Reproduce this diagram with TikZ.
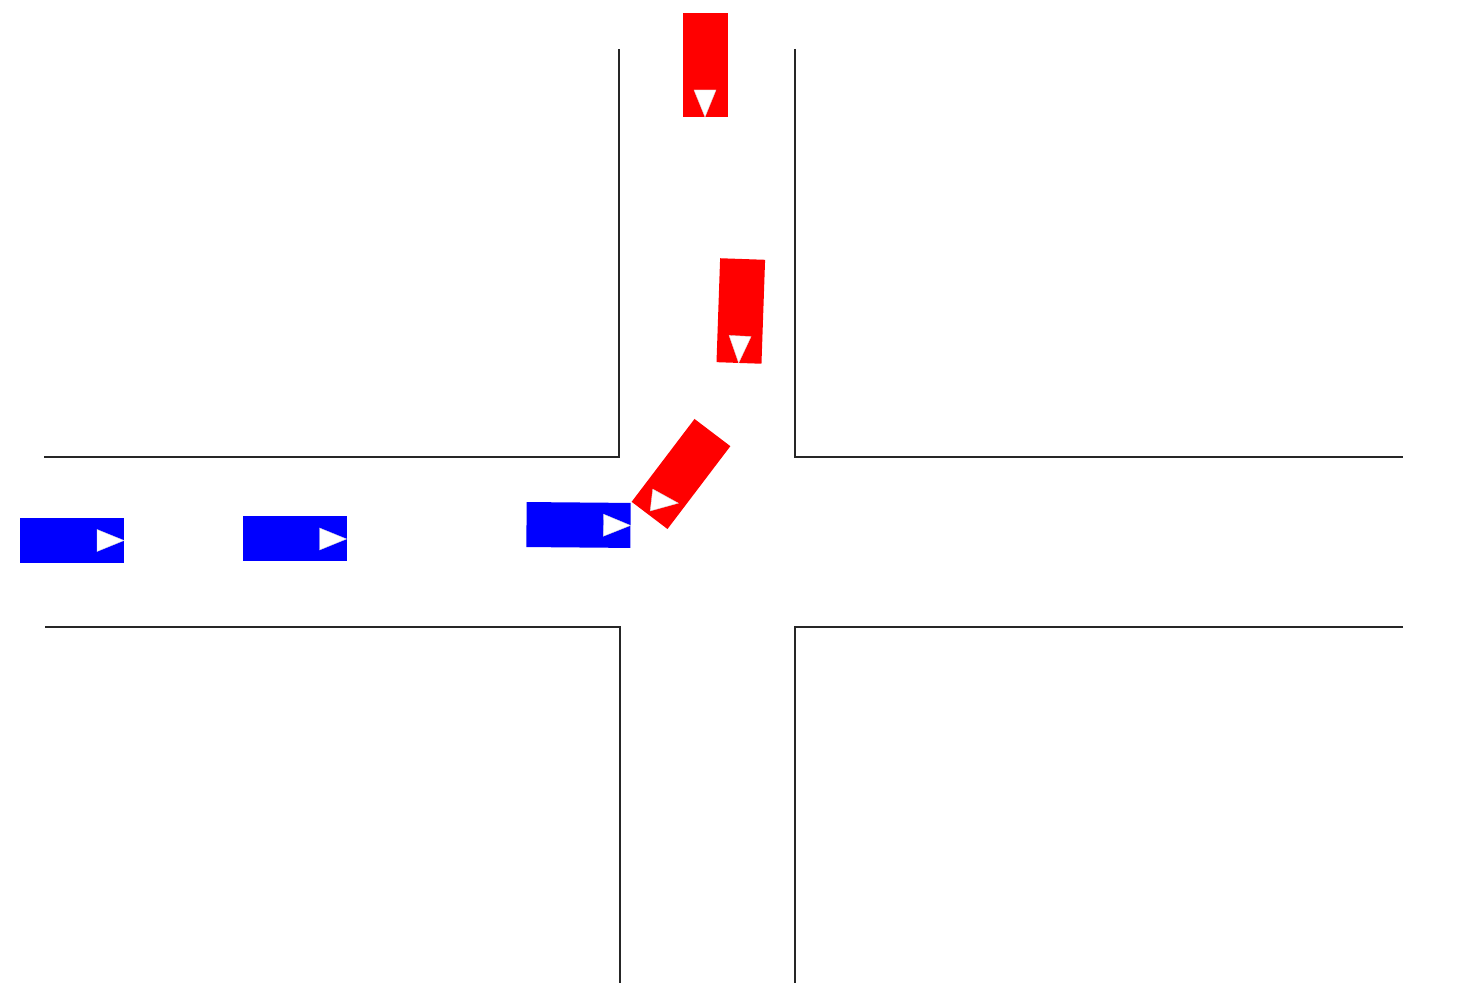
\documentclass[tikz,border=0pt]{standalone}
\usepackage{color}
\newcommand{\bcol}{blue}
\newcommand{\rcol}{red}
\newcommand{\routecol}{black!85}
% voiture : x, y, angle, couleur, angle de la fleche
\newcommand{\voiture}[5]{%
  \begin{scope}[shift={(#1,#2)}, rotate=#3]
    \fill[#4] (-52,-22.5) rectangle (52,22.5);
    \begin{scope}[shift={(34,0)}, rotate={(#5)-(#3)}]
      \filldraw[fill=white, draw=black!15, line width=0.2pt] (18,0) -- (-9,11) -- (-9,-11) -- cycle;
    \end{scope}
  \end{scope}}
\usepackage{tikz}

\begin{document}
\begin{tikzpicture}[x=0.5pt, y=0.5pt]

    \useasboundingbox (0,0) rectangle (1464,990);

    % bords de route
    \draw[draw=\routecol, line width=0.7pt] (44,533) -- (619,533) -- (619,941);
    \draw[draw=\routecol, line width=0.7pt] (795,941) -- (795,533) -- (1403,533);
    \draw[draw=\routecol, line width=0.7pt] (45,363) -- (620,363) -- (620,7);
    \draw[draw=\routecol, line width=0.7pt] (1403,363) -- (795,363) -- (795,7);

    % voitures
    \voiture{72}{449.5}{0}{\bcol}{0}
    \voiture{294.5}{451}{0}{\bcol}{0}
    \voiture{578.5}{465}{-0.5}{\bcol}{-0.5}

    \voiture{705}{925}{-90}{\rcol}{-90}
    \voiture{740.8}{679}{-92}{\rcol}{-93}
    \voiture{681}{516}{-127.2}{\rcol}{-6.7}

  \end{tikzpicture}
\end{document}
